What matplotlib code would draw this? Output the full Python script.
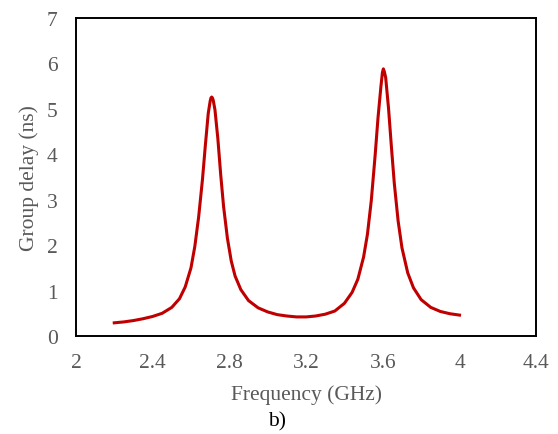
import numpy as np
import matplotlib
matplotlib.use("Agg")
import matplotlib.pyplot as plt

# group delay (GHz, ns)
freq = [2.20, 2.25, 2.30, 2.35, 2.40, 2.45, 2.50, 2.54, 2.57, 2.60, 2.62, 2.64,
        2.66, 2.675, 2.69, 2.70, 2.704, 2.708, 2.712, 2.716, 2.725, 2.74, 2.755,
        2.77, 2.79, 2.81, 2.83, 2.86, 2.90, 2.95, 3.00, 3.05, 3.10, 3.15, 3.20,
        3.25, 3.30, 3.35, 3.40, 3.44, 3.47, 3.50, 3.52, 3.54, 3.56, 3.575, 3.59,
        3.598, 3.603, 3.608, 3.615, 3.63, 3.645, 3.66, 3.68, 3.70, 3.73, 3.76,
        3.80, 3.85, 3.90, 3.95, 4.00]
delay = [0.29, 0.31, 0.34, 0.38, 0.43, 0.50, 0.63, 0.82, 1.08, 1.50, 1.97, 2.62,
         3.45, 4.20, 4.90, 5.17, 5.24, 5.26, 5.24, 5.19, 4.98, 4.35, 3.55,
         2.85, 2.15, 1.65, 1.32, 1.02, 0.78, 0.62, 0.53, 0.47, 0.44, 0.42, 0.42,
         0.44, 0.48, 0.55, 0.72, 0.96, 1.25, 1.74, 2.24, 2.98, 3.97, 4.80, 5.48,
         5.80, 5.88, 5.82, 5.69, 5.01, 4.16, 3.36, 2.53, 1.94, 1.39, 1.06,
         0.80, 0.63, 0.54, 0.49, 0.46]
xticks = [2, 2.4, 2.8, 3.2, 3.6, 4, 4.4]
xtick_labels = ["2", "2.4", "2.8", "3.2", "3.6", "4", "4.4"]
yticks = [0, 1, 2, 3, 4, 5, 6, 7]

GRAY = "#595959"
plt.rcParams["font.family"] = ["Liberation Serif", "DejaVu Serif"]

fig = plt.figure(figsize=(5.58, 4.35), dpi=100)
ax = fig.add_axes([0.136, 0.2253, 0.825, 0.731])
ax.plot(freq, delay, color="#C00000", lw=2.2, solid_joinstyle="round")

ax.set_xlim(2, 4.4); ax.set_ylim(0, 7)
ax.set_xticks(xticks); ax.set_xticklabels(xtick_labels)
ax.set_yticks(yticks)
ax.tick_params(length=0, labelsize=15.5, labelcolor=GRAY)
ax.tick_params(axis="x", pad=12)
ax.tick_params(axis="y", pad=13)
for s in ax.spines.values():
    s.set_color("black"); s.set_linewidth(1.4)
ax.set_xlabel("Frequency (GHz)", fontsize=15.5, color=GRAY, labelpad=9)
ax.set_ylabel("Group delay (ns)", fontsize=15.5, color=GRAY, labelpad=6)
fig.text(0.497, 0.03, "b)", fontsize=15.5, ha="center", va="center", color="black")

fig.savefig("out.png", dpi=100)
